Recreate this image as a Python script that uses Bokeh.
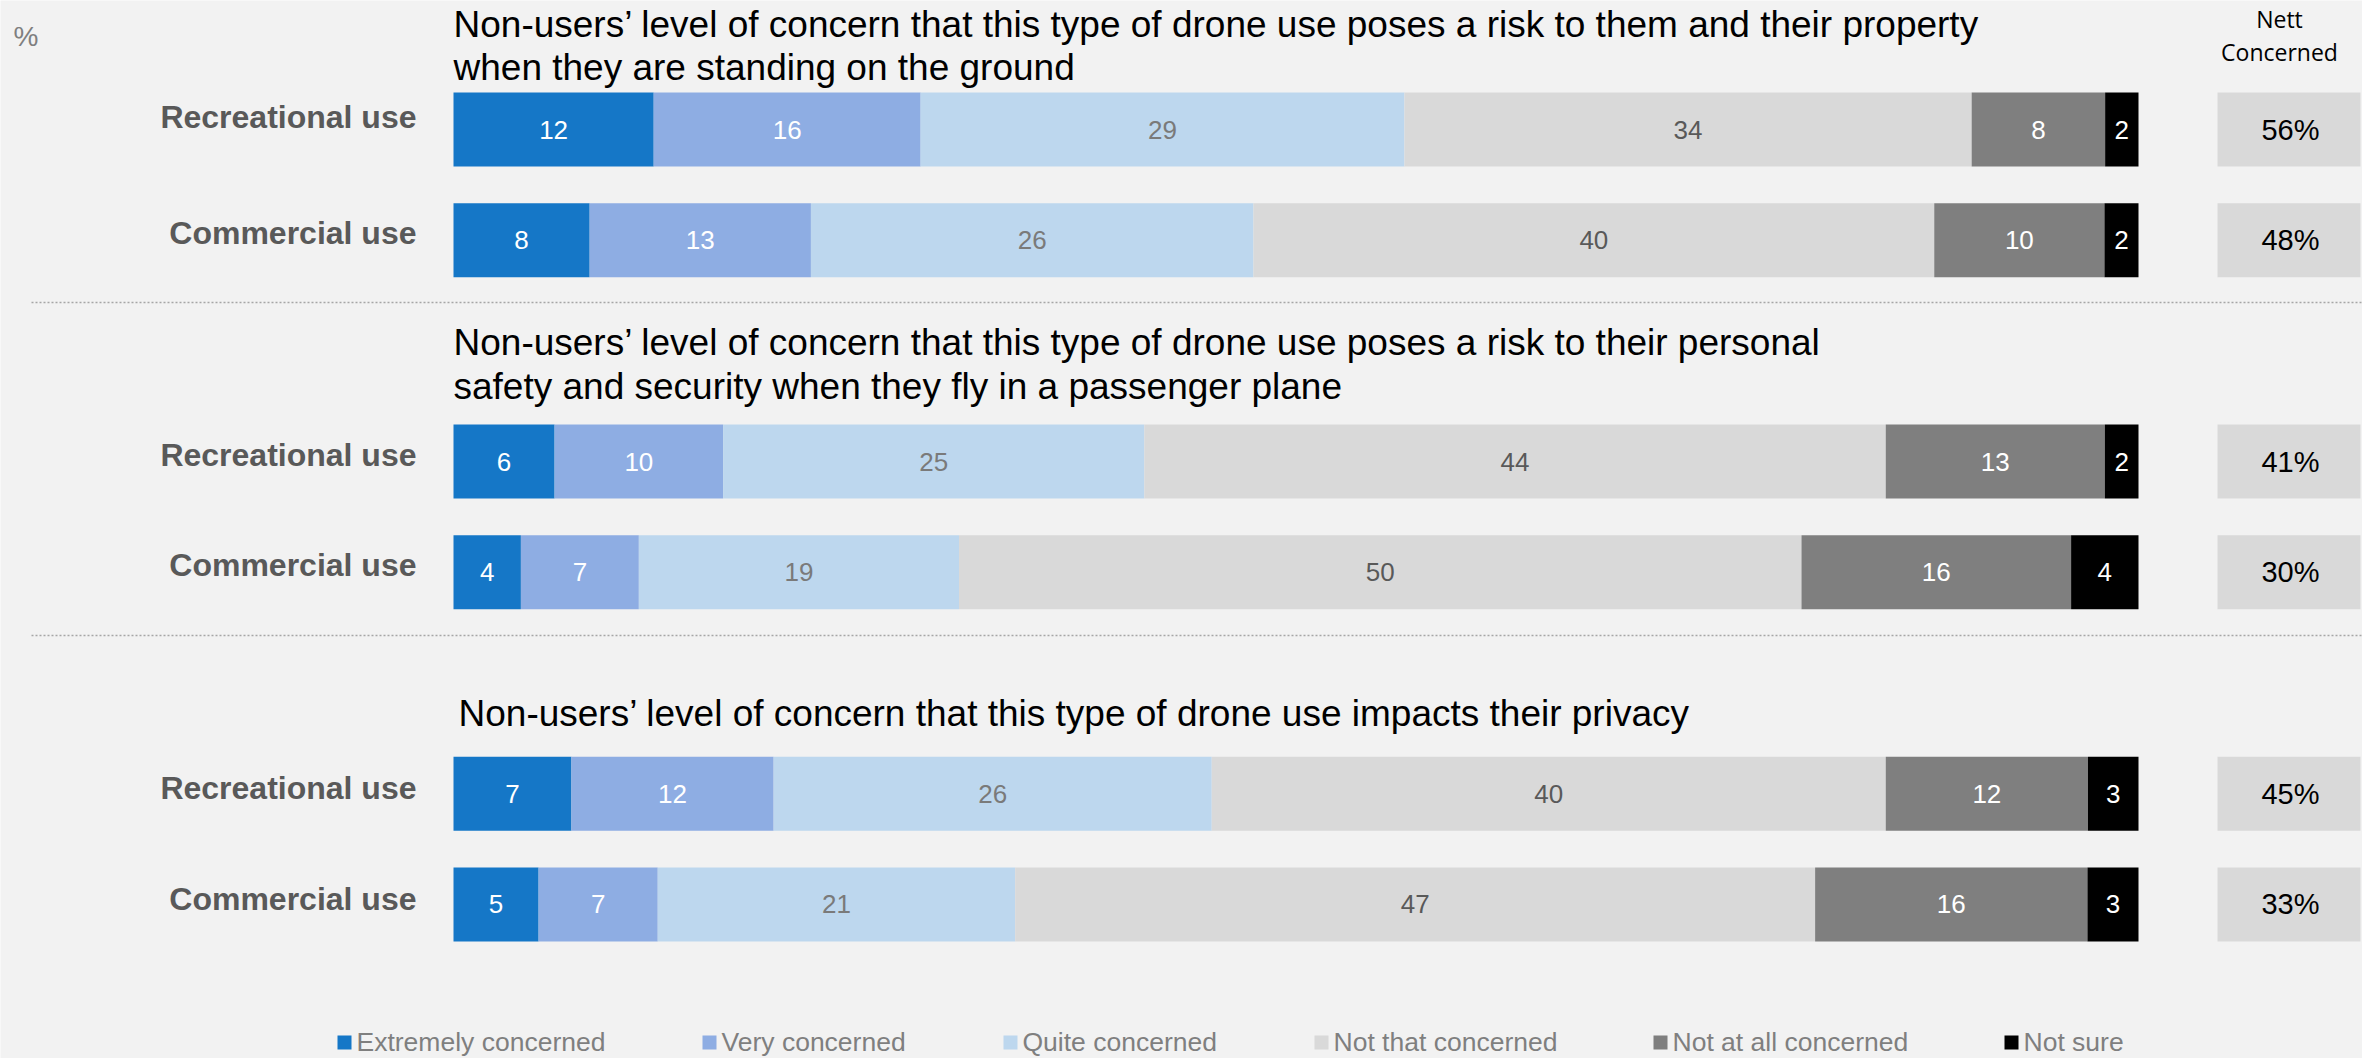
import numpy as np
from bokeh.plotting import figure
from bokeh.models import ColumnDataSource, Range1d
from bokeh.core.properties import value
from bokeh.embed import file_html
from bokeh.resources import INLINE

# ---------------- data ----------------
levels = ["Extremely concerned", "Very concerned", "Quite concerned",
          "Not that concerned", "Not at all concerned", "Not sure"]
row_labels = ["Recreational use", "Commercial use",
              "Recreational use", "Commercial use",
              "Recreational use", "Commercial use"]
group_of_row = [0, 0, 1, 1, 2, 2]
row_in_group = [0, 1, 0, 1, 0, 1]

extremely = [12, 8, 6, 4, 7, 5]
very = [16, 13, 10, 7, 12, 7]
quite = [29, 26, 25, 19, 26, 21]
not_that = [34, 40, 44, 50, 40, 47]
not_at_all = [8, 10, 13, 16, 12, 16]
not_sure = [2, 2, 2, 4, 3, 3]
nett = [56, 48, 41, 30, 45, 33]

titles = [
    ["Non-users\u2019 level of concern that this type of drone use poses a risk to them and their property",
     "when they are standing on the ground"],
    ["Non-users\u2019 level of concern that this type of drone use poses a risk to their personal",
     "safety and security when they fly in a passenger plane"],
    ["Non-users\u2019 level of concern that this type of drone use impacts their privacy"],
]

# ---------------- style ----------------
colors = ["#1577C7", "#8EADE3", "#BDD7EE", "#D9D9D9", "#7F7F7F", "#000000"]
label_colors = ["white", "white", "#7A7A7A", "#595959", "white", "white"]
BG = "#F2F2F2"
FONT = "Liberation Sans"

W, H = 2362, 1058
PX0, PXU = 453.0, 16.85     # x=0 at px 453, 16.85 px per percent
PY0, PYU = 129.0, 110.7     # y=0 at px 129, 110.7 px per row unit


def fx(px):
    return (px - PX0) / PXU


def fy(py):
    return (py - PY0) / PYU


p = figure(width=W, height=H, output_backend="svg", toolbar_location=None,
           x_range=Range1d(fx(0), fx(W)), y_range=Range1d(fy(H), fy(0)),
           x_axis_location=None, y_axis_location=None, min_border=0,
           background_fill_color=BG, border_fill_color=BG, outline_line_color=None)
p.grid.visible = False

series = np.array([extremely, very, quite, not_that, not_at_all, not_sure], dtype=float).T
share = series / series.sum(axis=1, keepdims=True) * 100.0
rights = np.cumsum(share, axis=1)
lefts = rights - share
row_y = [g * 3 + r for g, r in zip(group_of_row, row_in_group)]
BAR_H = 74 / PYU

for k, lev in enumerate(levels):
    src = ColumnDataSource(dict(
        y=row_y, left=lefts[:, k], right=rights[:, k],
        mid=(lefts[:, k] + rights[:, k]) / 2,
        txt=[str(v) for v in series[:, k].astype(int)],
    ))
    p.hbar(y="y", left="left", right="right", height=BAR_H, source=src,
           fill_color=colors[k], line_color=None)
    p.text(x="mid", y="y", text="txt", source=src, text_align="center",
           text_baseline="middle", text_color=label_colors[k],
           text_font=value(FONT), text_font_size=value("26px"))

# row labels (small vertical offsets in pixels above the bar centre)
label_dy = [-13, -7, -7, -7, -6, -5]
lab_src = ColumnDataSource(dict(x=[fx(416)] * len(row_y),
                                y=[y + d / PYU for y, d in zip(row_y, label_dy)],
                                t=row_labels))
p.text(x="x", y="y", text="t", source=lab_src, text_align="right",
       text_baseline="middle", text_color="#595959", text_font=value(FONT),
       text_font_size=value("32px"), text_font_style="bold")

# nett concerned boxes
n_src = ColumnDataSource(dict(y=row_y, t=[f"{v}%" for v in nett]))
p.hbar(y="y", left=fx(2217), right=fx(2360), height=BAR_H, source=n_src,
       fill_color="#D9D9D9", line_color=None)
p.text(x=fx(2290), y="y", text="t", source=n_src, text_align="center",
       text_baseline="middle", text_color="black", text_font=value(FONT),
       text_font_size=value("29px"))

p.text(x=[fx(2279), fx(2279)], y=[fy(18), fy(51)], text=["Nett", "Concerned"],
       text_align="center", text_baseline="middle", text_color="black",
       text_font=value("Open Sans"), text_font_size=value("23px"))

# "%" marker
p.text(x=[fx(13)], y=[fy(36)], text=["%"], text_align="left", text_baseline="middle",
       text_color="#7F7F7F", text_font=value(FONT), text_font_size=value("28px"))

# titles (vertical centres of text lines)
title_x = [453, 453, 458]
title_mid = [[24, 67], [342, 386], [713]]
tx, ty, tt = [], [], []
for g, lines in enumerate(titles):
    for ln, line in enumerate(lines):
        tx.append(fx(title_x[g]))
        ty.append(fy(title_mid[g][ln]))
        tt.append(line)
p.text(x=tx, y=ty, text=tt, text_align="left", text_baseline="middle",
       text_color="black", text_font=value(FONT), text_font_size=value("37px"))

# separators
for sy in [302, 635]:
    p.segment(x0=[fx(31)], x1=[fx(W)], y0=[fy(sy)], y1=[fy(sy)],
              line_color="#A6A6A6", line_width=1.5, line_dash="2 2")

# legend
leg_x = [337, 702, 1003, 1314, 1653, 2004]
leg_y = 1041
p.scatter(x=[fx(v + 7) for v in leg_x], y=[fy(leg_y + 1)] * 6, marker="square",
          size=14, fill_color=colors, line_color=None)
p.text(x=[fx(v + 19) for v in leg_x], y=[fy(leg_y)] * 6, text=levels,
       text_align="left", text_baseline="middle", text_color="#7F7F7F",
       text_font=value(FONT), text_font_size=value("26.5px"))

html = file_html(p, INLINE)
open("out.html", "w").write(html)
